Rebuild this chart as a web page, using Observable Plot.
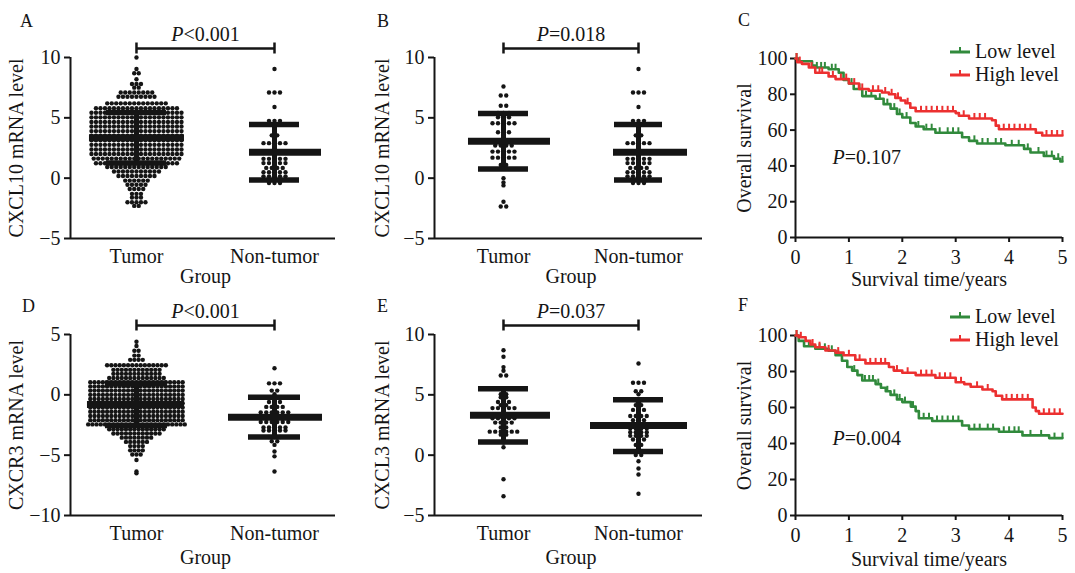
<!DOCTYPE html>
<html><head><meta charset="utf-8">
<script src="https://cdn.jsdelivr.net/npm/d3@7"></script>
<script src="https://cdn.jsdelivr.net/npm/@observablehq/plot@0.6"></script>
<style>
html,body{margin:0;padding:0;background:#fff;}
#root{position:relative;width:1075px;height:573px;overflow:hidden;font-family:'Liberation Serif','DejaVu Serif',serif;color:#151515;}
.panel{position:absolute;}
.panel svg{overflow:visible;}
</style></head><body><div id="root"></div>
<script>
// ---------- DATA ----------
const groups = ["Tumor", "Non-tumor"];
// dot rows: [value, number of dots in that row]
const cxcl10TumorAllRows = [[10.0,1],[9.05,1],[8.7,2],[8.2,1],[7.8,3],[7.5,2],[7.1,8],[6.75,9],[6.2,14],
  [5.8,19],[5.42,21],[5.04,21],[4.66,21],[4.28,21],[3.9,21],[3.52,21],[3.14,21],[2.76,21],[2.38,21],[2.0,21],[1.62,20],[1.24,19],
  [0.93,14],[0.55,11],[0.18,9],[-0.2,6],[-0.55,5],[-0.9,4],[-1.3,3],[-1.6,3],[-2.0,5],[-2.3,2]];
const cxcl10NormalRows = [[9.05,1],[7.1,3],[5.9,1],[4.75,3],[3.55,2],[2.9,5],[2.2,4],[1.6,5],[1.25,5],[0.85,4],[0.5,5],[0.15,5],[-0.15,4],[-0.4,3]];
const cxcl10TumorPairedRows = [[7.6,1],[6.85,2],[6.0,2],[5.4,3],[5.05,3],[4.55,5],[3.8,3],[3.05,7],[2.7,4],[2.2,5],[1.7,5],[1.1,2],[0.8,2],[0.0,1],[-0.35,1],[-0.6,1],[-1.95,1],[-2.35,2]];
const cxcr3TumorAllRows = [[4.4,1],[4.05,1],[3.65,2],[3.25,2],[2.9,4],[2.45,15],[2.07,12],[1.74,12],[1.4,14],
  [1.05,23],[0.7,23],[0.35,23],[0.0,23],[-0.35,23],[-0.7,23],[-1.05,23],[-1.4,23],[-1.75,23],[-2.1,23],[-2.45,24],
  [-2.85,14],[-3.2,12],[-3.55,8],[-3.9,6],[-4.25,4],[-4.6,4],[-4.95,3],[-5.4,1],[-6.35,1],[-6.5,1]];
const cxcr3NormalRows = [[2.2,1],[0.95,3],[0.35,2],[0.05,1],[-0.6,3],[-1.0,4],[-1.45,6],[-1.85,5],[-2.25,6],[-2.7,5],[-2.95,5],[-3.5,3],[-3.85,2],[-4.15,1],[-4.7,1],[-5.1,1],[-6.35,1]];
const cxcl3TumorRows = [[8.7,1],[8.15,1],[7.3,1],[7.0,1],[6.6,2],[5.55,1],[5.05,2],[4.8,2],[4.4,3],[4.15,2],[3.9,5],[3.65,1],[3.3,5],[3.05,5],[2.7,4],[2.3,2],[1.95,6],[1.7,2],[1.05,1],[0.65,1],[-2.0,1],[-3.4,1]];
const cxcl3NormalRows = [[7.6,1],[6.0,3],[5.3,2],[5.05,1],[4.55,2],[4.15,2],[3.75,3],[3.25,4],[2.9,3],[2.5,4],[2.2,4],[1.9,4],[1.6,4],[1.3,3],[0.85,2],[0.3,2],[0.02,2],[-0.5,1],[-1.1,1],[-1.6,1],[-3.2,1]];
// mean and SD per group [Tumor, Non-tumor]
const meanA = [3.35, 2.15], sdA = [2.1, 2.3];
const meanB = [3.05, 2.15], sdB = [2.3, 2.3];
const meanD = [-0.8, -1.85], sdD = [1.75, 1.65];
const meanE = [3.3, 2.45], sdE = [2.2, 2.15];
const yLabels = ["CXCL10 mRNA level", "CXCL10 mRNA level", "CXCR3 mRNA level", "CXCL3 mRNA level"];
const pLabels = ["P<0.001", "P=0.018", "P=0.107", "P<0.001", "P=0.037", "P=0.004"];
const panelLetters = ["A", "B", "C", "D", "E", "F"];
// survival curves (time in years, % surviving)
const cLowT  = [0,0.06,0.31,0.37,0.62,0.81,0.9,1.0,1.09,1.25,1.5,1.65,1.78,1.9,2.0,2.15,2.25,2.4,2.62,3.12,3.25,3.4,3.93,4.28,4.4,4.65,4.84,4.96,5.0];
const cLowS  = [100,98.5,96,95,94,92,88,86,83,79,77.5,74.5,72,69,67,64,62,60.5,58.5,56,54,52.5,51.5,49.5,47.5,45.5,44,42.5,42.5];
const cHighT = [0,0.03,0.12,0.25,0.37,0.62,0.75,1.0,1.19,1.37,1.62,1.75,1.87,1.97,2.06,2.15,2.25,3.0,3.06,3.25,3.68,3.75,3.81,4.5,4.62,5.0];
const cHighS = [100,98,97,95,92,90,88.5,86,83,82,81,80,78,76.5,75,72.5,70.5,69.5,68,66.5,65.5,62.5,60.5,58.5,57,57];
const fLowT  = [0,0.06,0.16,0.37,0.62,0.75,0.87,0.97,1.06,1.16,1.25,1.5,1.6,1.69,1.78,1.9,2.0,2.16,2.25,2.31,2.56,3.12,3.25,3.81,4.25,4.75,5.0];
const fLowS  = [100,97,94,92.6,91.5,89,86,82.5,80.5,78,75,73,71,69,67,64.5,63,60.5,58,54,52.5,50,48,46.5,44.5,43,43];
const fHighT = [0,0.06,0.19,0.28,0.37,0.56,0.75,0.9,1.12,1.31,1.75,1.84,2.0,2.25,2.62,3.0,3.16,3.28,3.5,3.69,3.75,3.87,4.44,4.5,4.56,5.0];
const fHighS = [100,99,97,95,93.5,91.7,90.5,89,86.5,84.5,82.5,80.5,79.3,78,76.5,74,73,71.5,70,69,66.5,64.5,60,58,56.5,56.5];
// censored observations (years)
const cLowCens  = [0.02,0.4,0.48,0.55,0.68,0.75,1.05,1.2,1.32,1.42,1.58,1.72,1.85,1.95,2.08,2.3,2.45,2.55,2.7,2.85,2.95,3.05,3.35,3.5,3.6,3.75,3.85,4.05,4.18,4.35,4.55,4.7,4.8,4.92,5.0];
const cHighCens = [0.02,0.08,0.3,0.45,0.5,0.7,0.85,0.95,1.1,1.25,1.45,1.55,1.68,1.8,1.92,2.1,2.35,2.45,2.55,2.65,2.75,2.85,2.95,3.15,3.35,3.45,3.55,3.9,4.0,4.1,4.2,4.3,4.4,4.7,4.8,4.9,5.0];
const fLowCens  = [0.02,0.25,0.45,0.55,0.68,0.8,1.1,1.3,1.38,1.45,1.55,1.72,1.85,1.95,2.05,2.2,2.4,2.5,2.65,2.75,2.85,2.95,3.05,3.35,3.45,3.6,3.7,3.9,4.0,4.1,4.18,4.4,4.6,4.85,5.0];
const fHighCens = [0.02,0.1,0.32,0.45,0.62,0.8,1.0,1.2,1.4,1.5,1.6,1.68,1.9,2.1,2.35,2.45,2.55,2.7,2.8,2.9,3.1,3.4,3.6,3.95,4.05,4.15,4.25,4.35,4.65,4.75,4.85,4.95];
const legendLabels = ["Low level", "High level"];
const seriesColors = ["#318a3c", "#ec3030"];
const kmXLabel = "Survival time/years", kmYLabel = "Overall survival", groupLabel = "Group";

// ---------- RENDER ----------
const FONT = "'Liberation Serif','DejaVu Serif',serif";
const INK = "#151515";
const root = document.getElementById("root");
const NS = "http://www.w3.org/2000/svg";

function italicP(svg) {
  svg.querySelectorAll("text").forEach(t => {
    if (t.children.length === 0 && /^P[<=]/.test(t.textContent)) {
      const s = t.textContent; t.textContent = "";
      const ts = document.createElementNS(NS, "tspan");
      ts.setAttribute("font-style", "italic"); ts.textContent = s[0];
      t.appendChild(ts); t.appendChild(document.createTextNode(s.slice(1)));
    }
  });
}
function place(el, left, top) {
  const d = document.createElement("div"); d.className = "panel";
  d.style.left = left + "px"; d.style.top = top + "px";
  d.appendChild(el); root.appendChild(d); italicP(el);
}
const baseStyle = {fontFamily: FONT, fontSize: "20px", color: INK, background: "transparent", overflow: "visible"};

function dotPanel(c) {
  const fw = c.width - c.mL - c.mR, fh = c.height - c.mT - c.mB;
  const pxu = fw / (c.xDomain[1] - c.xDomain[0]);
  const pyu = fh / (c.yDomain[1] - c.yDomain[0]);
  const pts = [];
  c.rows.forEach((rows, g) => rows.forEach(([v, n]) => {
    for (let i = 0; i < n; i++) pts.push({x: g + (i - (n - 1) / 2) * c.dotGap[g] / pxu, y: v});
  }));
  const stats = c.mean.map((m, g) => ({g, m, lo: m - c.sd[g], hi: m + c.sd[g],
    cx1: g - c.capHalf[g] / pxu, cx2: g + c.capHalf[g] / pxu,
    mx1: g + c.meanExt[g][0] / pxu, mx2: g + c.meanExt[g][1] / pxu}));
  const caps = stats.flatMap(s => [{y: s.lo, x1: s.cx1, x2: s.cx2}, {y: s.hi, x1: s.cx1, x2: s.cx2}]);
  const yTop = c.yDomain[1];
  const bY = yTop + 9 / pyu;
  const svg = Plot.plot({
    width: c.width, height: c.height, marginLeft: c.mL, marginRight: c.mR, marginTop: c.mT, marginBottom: c.mB,
    x: {domain: c.xDomain}, y: {domain: c.yDomain},
    style: baseStyle,
    marks: [
      Plot.axisY({ticks: c.yTicks, tickSize: 6, tickPadding: 4, strokeWidth: 2, label: null}),
      Plot.axisX({ticks: [0, 1], tickSize: 0, tickPadding: 10, tickFormat: d => groups[d], label: null}),
      Plot.ruleX([c.xDomain[0]], {strokeWidth: 2, stroke: INK}),
      Plot.ruleY([c.yDomain[0]], {strokeWidth: 2, stroke: INK}),
      Plot.dot(pts, {x: "x", y: "y", r: 2.2, fill: INK}),
      Plot.ruleX(stats, {x: "g", y1: "lo", y2: "hi", strokeWidth: 5, stroke: INK}),
      Plot.ruleY(caps, {y: "y", x1: "x1", x2: "x2", strokeWidth: 5.5, stroke: INK}),
      Plot.ruleY(stats, {y: "m", x1: "mx1", x2: "mx2", strokeWidth: 7, stroke: INK}),
      Plot.ruleY([{y: bY, x1: 0, x2: 1}], {y: "y", x1: "x1", x2: "x2", strokeWidth: 2.5, stroke: INK}),
      Plot.ruleX([{x: 0}, {x: 1}], {x: "x", y1: () => bY - 5.5 / pyu, y2: () => bY + 5.5 / pyu, strokeWidth: 2.5, stroke: INK}),
      Plot.text([{x: 0.5, y: yTop, t: c.p}], {x: "x", y: "y", text: "t", dy: -17, lineAnchor: "bottom", textAnchor: "middle"}),
      Plot.text([{t: c.yLabel}], {text: "t", frameAnchor: "left", rotate: -90, dx: -c.yLabelDx, lineAnchor: "bottom", textAnchor: "middle"}),
      Plot.text([{x: 0.5, t: groupLabel}], {x: "x", text: "t", frameAnchor: "bottom", dy: c.groupDy, lineAnchor: "bottom", textAnchor: "middle"})
    ]
  });
  place(svg, c.left, c.top);
}

function stepAt(T, S, t) { let v = S[0]; for (let i = 0; i < T.length; i++) if (T[i] <= t) v = S[i]; return v; }

function kmPanel(c) {
  const fh = c.height - c.mT - c.mB; const pyu = fh / 100;
  const marks = [
    Plot.axisY({ticks: [0, 20, 40, 60, 80, 100], tickSize: 5, tickPadding: 3, strokeWidth: 2, label: null}),
    Plot.axisX({ticks: [0, 1, 2, 3, 4, 5], tickSize: 5, tickPadding: 7, strokeWidth: 2, tickFormat: d => String(d), label: null}),
    Plot.ruleX([0], {strokeWidth: 2, stroke: INK}),
    Plot.ruleY([0], {strokeWidth: 2, stroke: INK})
  ];
  c.series.forEach((s, k) => {
    const pts = s.T.map((t, i) => ({t, s: s.S[i]}));
    const cens = s.C.map(t => { const v = stepAt(s.T, s.S, t); return {t, y1: v, y2: v + 5 / pyu}; });
    marks.push(Plot.line(pts, {x: "t", y: "s", curve: "step-after", stroke: seriesColors[k], strokeWidth: 2.6}));
    marks.push(Plot.ruleX(cens, {x: "t", y1: "y1", y2: "y2", stroke: seriesColors[k], strokeWidth: 2}));
  });
  marks.push(
    Plot.text([{t: c.p}], {text: "t", frameAnchor: "top-left", dx: 37, dy: c.pDy, textAnchor: "start", lineAnchor: "bottom"}),
    Plot.text([{t: kmYLabel}], {text: "t", frameAnchor: "left", rotate: -90, dx: -45, lineAnchor: "bottom", textAnchor: "middle"}),
    Plot.text([{x: 2.5, t: kmXLabel}], {x: "x", text: "t", frameAnchor: "bottom", dy: c.xLabelDy, lineAnchor: "bottom", textAnchor: "middle"})
  );
  const svg = Plot.plot({
    width: c.width, height: c.height, marginLeft: c.mL, marginRight: c.mR, marginTop: c.mT, marginBottom: c.mB,
    x: {domain: [0, 5]}, y: {domain: [0, 100]},
    style: baseStyle, marks
  });
  place(svg, c.left, c.top);
}

dotPanel({left: 0, top: 0, width: 360, height: 295, mL: 70, mR: 25, mT: 57, mB: 57,
  xDomain: [-0.478, 1.442], yDomain: [-5, 10], yTicks: [-5, 0, 5, 10],
  rows: [cxcl10TumorAllRows, cxcl10NormalRows], mean: meanA, sd: sdA,
  dotGap: [4.5, 5.5], capHalf: [30, 25], meanExt: [[-47, 48], [-25, 47]],
  p: pLabels[0], yLabel: yLabels[0], yLabelDx: 48, groupDy: 44});
dotPanel({left: 360, top: 0, width: 360, height: 295, mL: 74, mR: 18, mT: 57, mB: 57,
  xDomain: [-0.511, 1.474], yDomain: [-5, 10], yTicks: [-5, 0, 5, 10],
  rows: [cxcl10TumorPairedRows, cxcl10NormalRows], mean: meanB, sd: sdB,
  dotGap: [5.5, 5.5], capHalf: [25, 24], meanExt: [[-35, 47], [-25, 49]],
  p: pLabels[1], yLabel: yLabels[1], yLabelDx: 46, groupDy: 44});
dotPanel({left: 0, top: 285, width: 360, height: 288, mL: 70, mR: 25, mT: 49, mB: 58,
  xDomain: [-0.478, 1.442], yDomain: [-10, 5], yTicks: [-10, -5, 0, 5],
  rows: [cxcr3TumorAllRows, cxcr3NormalRows], mean: meanD, sd: sdD,
  dotGap: [4.2, 5.5], capHalf: [31, 26], meanExt: [[-49, 48], [-46, 48]],
  p: pLabels[3], yLabel: yLabels[2], yLabelDx: 48, groupDy: 48});
dotPanel({left: 360, top: 285, width: 360, height: 288, mL: 74, mR: 18, mT: 49, mB: 58,
  xDomain: [-0.511, 1.474], yDomain: [-5, 10], yTicks: [-5, 0, 5, 10],
  rows: [cxcl3TumorRows, cxcl3NormalRows], mean: meanE, sd: sdE,
  dotGap: [5.5, 5.5], capHalf: [25, 25], meanExt: [[-33, 47], [-48, 49]],
  p: pLabels[4], yLabel: yLabels[3], yLabelDx: 46, groupDy: 48});
kmPanel({left: 715, top: 0, width: 360, height: 295, mL: 80, mR: 13, mT: 58, mB: 58,
  series: [{T: cLowT, S: cLowS, C: cLowCens}, {T: cHighT, S: cHighS, C: cHighCens}],
  p: pLabels[2], pDy: 105, xLabelDy: 48});
kmPanel({left: 715, top: 285, width: 360, height: 288, mL: 80, mR: 13, mT: 50, mB: 58,
  series: [{T: fLowT, S: fLowS, C: fLowCens}, {T: fHighT, S: fHighS, C: fHighCens}],
  p: pLabels[5], pDy: 109, xLabelDy: 50});

// overlay: panel letters and legends
const ov = document.createElementNS(NS, "svg");
ov.setAttribute("width", 1075); ov.setAttribute("height", 573);
ov.style.cssText = "position:absolute;left:0;top:0;pointer-events:none;font-family:" + FONT;
function txt(x, y, s, size) {
  const t = document.createElementNS(NS, "text");
  t.setAttribute("x", x); t.setAttribute("y", y); t.setAttribute("font-size", size); t.setAttribute("fill", INK);
  t.textContent = s; ov.appendChild(t);
}
function ln(x1, y1, x2, y2, col, w) {
  const l = document.createElementNS(NS, "line");
  l.setAttribute("x1", x1); l.setAttribute("y1", y1); l.setAttribute("x2", x2); l.setAttribute("y2", y2);
  l.setAttribute("stroke", col); l.setAttribute("stroke-width", w); ov.appendChild(l);
}
[[20, 27], [377, 27], [738, 26], [22, 312], [377, 312], [738, 311]].forEach(([x, y], i) => txt(x, y, panelLetters[i], 18));
[[52, 75], [317, 340]].forEach(rowY => rowY.forEach((y, k) => {
  ln(950, y, 970, y, seriesColors[k], 3);
  ln(960, y, 960, y - 5, seriesColors[k], 2);
  txt(975, y + 6, legendLabels[k], 20);
}));
root.appendChild(ov);
</script></body></html>
